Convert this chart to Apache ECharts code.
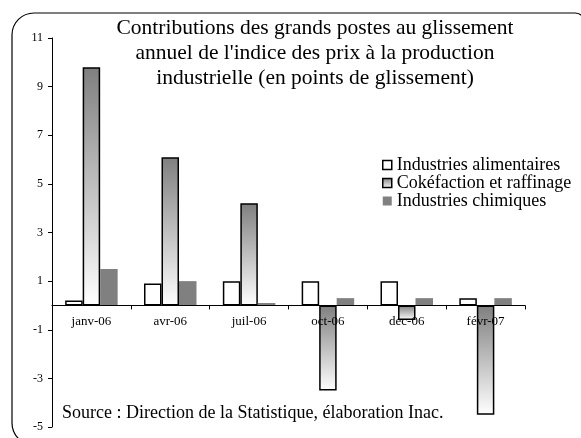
<!DOCTYPE html>
<html>
<head>
<meta charset="utf-8">
<script src="https://cdn.jsdelivr.net/npm/echarts@6/dist/echarts.min.js"></script>
<style>
  html, body { margin: 0; padding: 0; background: #fff; }
  #chart { width: 581px; height: 438px; }
</style>
</head>
<body>
<div id="chart"></div>
<script>
const categories = ['janv-06', 'avr-06', 'juil-06', 'oct-06', 'dec-06', 'févr-07'];
const alimentaires = [0.2, 0.9, 1.0, 1.0, 1.0, 0.3];
const cokefaction = [9.8, 6.1, 4.2, -3.5, -0.6, -4.5];
const chimiques = [1.5, 1.0, 0.1, 0.3, 0.3, 0.3];
const seriesNames = ['Industries alimentaires', 'Cokéfaction et raffinage', 'Industries chimiques'];

const serif = '"Liberation Serif", "Times New Roman", serif';

const gradient = new echarts.graphic.LinearGradient(0, 0, 0, 1, [
  { offset: 0, color: '#7f7f7f' },
  { offset: 1, color: '#ffffff' }
]);

const chart = echarts.init(document.getElementById('chart'));
chart.setOption({
  animation: false,
  backgroundColor: '#fff',
  grid: { left: 52, right: 56, top: 38, bottom: 11, outerBoundsMode: 'none' },
  legend: {
    orient: 'vertical',
    left: 377,
    top: 151,
    icon: 'rect',
    itemWidth: 9,
    itemHeight: 9,
    itemGap: 0,
    textStyle: { fontFamily: serif, fontSize: 18, lineHeight: 17.5, color: '#000' },
    data: [
      { name: seriesNames[0], itemStyle: { color: '#fff', borderColor: '#000', borderWidth: 1.5 } },
      { name: seriesNames[1], itemStyle: { color: gradient, borderColor: '#000', borderWidth: 1.5 } },
      { name: seriesNames[2], itemStyle: { color: '#808080', borderWidth: 0 } }
    ]
  },
  xAxis: {
    type: 'category',
    data: categories,
    z: 5,
    axisLine: { onZero: false, lineStyle: { color: '#000', width: 1 } },
    axisTick: { show: true, inside: false, length: 4, lineStyle: { color: '#000' } },
    axisLabel: { color: '#000', fontFamily: serif, fontSize: 13, margin: 10 }
  },
  yAxis: {
    type: 'value',
    min: -5,
    max: 11,
    interval: 2,
    splitLine: { show: false },
    axisLine: { show: true, lineStyle: { color: '#000', width: 1 } },
    axisTick: { show: true, length: 4, lineStyle: { color: '#000' } },
    axisLabel: { color: '#000', fontFamily: serif, fontSize: 12, margin: 9 }
  },
  series: [
    {
      name: seriesNames[0],
      type: 'bar',
      data: alimentaires,
      barWidth: 17.5,
      barGap: '0%',
      itemStyle: { color: '#fff', borderColor: '#000', borderWidth: 1.5 }
    },
    {
      name: seriesNames[1],
      type: 'bar',
      data: cokefaction,
      barWidth: 17.5,
      barGap: '0%',
      itemStyle: { color: gradient, borderColor: '#000', borderWidth: 1.5 }
    },
    {
      name: seriesNames[2],
      type: 'bar',
      data: chimiques,
      barWidth: 17.5,
      barGap: '0%',
      itemStyle: { color: '#808080' }
    }
  ],
  graphic: [
    {
      type: 'rect',
      shape: { x: 12, y: 13, width: 573, height: 432, r: [22, 10, 10, 22] },
      style: { fill: 'none', stroke: '#000', lineWidth: 1.2 },
      z: -1
    },
    {
      type: 'text',
      x: 315,
      y: 16,
      style: {
        text: 'Contributions des grands postes au glissement\nannuel de l\'indice des prix à la production\nindustrielle (en points de glissement)',
        font: '21.5px ' + serif,
        textAlign: 'center',
        textVerticalAlign: 'top',
        lineHeight: 25,
        fill: '#000'
      }
    },
    {
      type: 'text',
      x: 62,
      y: 413,
      style: {
        text: 'Source : Direction de la Statistique, élaboration Inac.',
        font: '18px ' + serif,
        textAlign: 'left',
        textVerticalAlign: 'middle',
        fill: '#000'
      }
    }
  ]
});

// move the category axis (line, ticks and labels) up to the zero line
const zeroY = chart.convertToPixel({ yAxisIndex: 0 }, 0);
const bottomY = chart.convertToPixel({ yAxisIndex: 0 }, -5);
chart.setOption({ xAxis: { offset: -(bottomY - zeroY) } });

window.addEventListener('resize', chart.resize);
</script>
</body>
</html>
